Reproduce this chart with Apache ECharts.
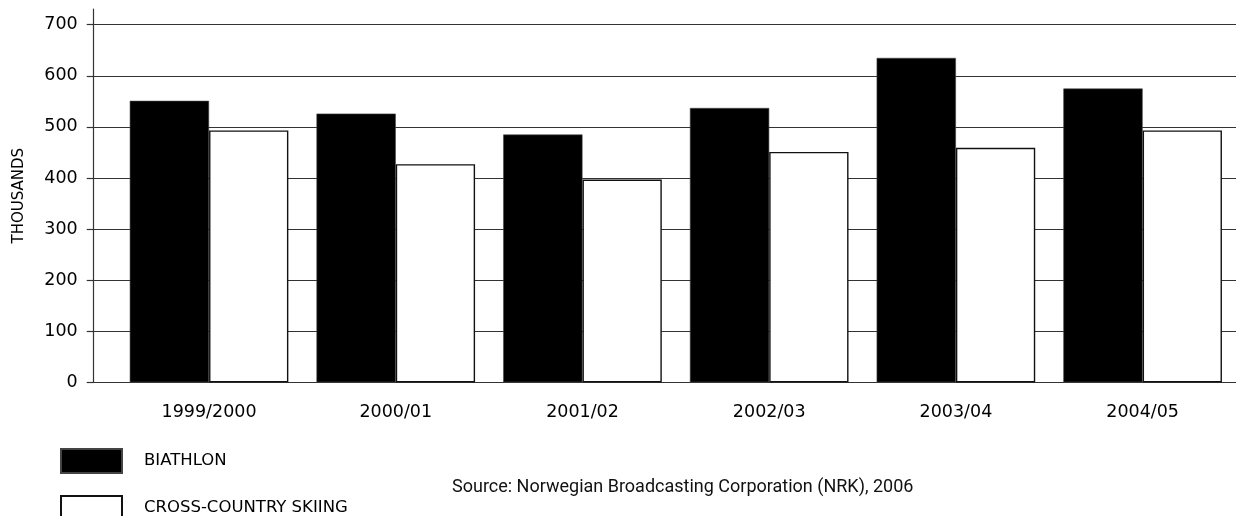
<!DOCTYPE html>
<html>
<head>
<meta charset="utf-8">
<script src="https://cdn.jsdelivr.net/npm/echarts@6/dist/echarts.min.js"></script>
<style>
  html, body { margin: 0; padding: 0; background: #fff; }
  #chart { width: 1236px; height: 516px; }
</style>
</head>
<body>
<div id="chart"></div>
<script>
const seasons = ['1999/2000', '2000/01', '2001/02', '2002/03', '2003/04', '2004/05']
const biathlon = [551, 526, 485, 537, 635, 575]
const crossCountry = [493, 427, 397, 451, 459, 493]
const yTicks = { min: 0, max: 700, interval: 100 }

const font = 'DejaVu Sans'
const lineColor = '#333'

const chart = echarts.init(document.getElementById('chart'))

// one legend per item so they stack like the original key
const legendBase = {
  orient: 'vertical',
  left: 60,
  itemWidth: 61,
  itemHeight: 24,
  icon: 'rect',
  padding: 0,
  textStyle: { fontFamily: font, fontSize: 16.5, color: '#000', padding: [0, 0, 0, 17] }
}

chart.setOption({
  animation: false,
  title: {
    text: 'Source: Norwegian Broadcasting Corporation (NRK), 2006',
    left: 452,
    top: 478,
    padding: 0,
    textStyle: { fontFamily: 'Roboto', fontSize: 18, fontWeight: 'normal', color: '#111' }
  },
  legend: [
    Object.assign({}, legendBase, { top: 448, data: ['BIATHLON'] }),
    Object.assign({}, legendBase, { top: 495, data: ['CROSS-COUNTRY SKIING'] })
  ],
  grid: [
    // axis + gridlines
    { left: 93.7, right: 0, top: 24.7, bottom: 133.7 },
    // bars
    { left: 115.7, width: 1122, top: 24.7, bottom: 133.7 },
    // taller axis line, carries the axis name
    { left: 93.7, right: 0, top: 9, bottom: 133.7 }
  ],
  xAxis: [
    { gridIndex: 0, type: 'value', min: 0, max: 1, show: false },
    {
      gridIndex: 1,
      type: 'category',
      data: seasons,
      axisLine: { show: false },
      axisTick: { show: false },
      axisLabel: { margin: 21, fontFamily: font, fontSize: 17.5, color: '#000' }
    },
    { gridIndex: 2, type: 'value', min: 0, max: 1, show: false }
  ],
  yAxis: [
    {
      gridIndex: 0,
      type: 'value',
      min: yTicks.min,
      max: yTicks.max,
      interval: yTicks.interval,
      axisLine: { show: false },
      axisTick: { show: true, length: 7, lineStyle: { color: lineColor, width: 1.2 } },
      axisLabel: { margin: 16, fontFamily: font, fontSize: 17.5, color: '#000' },
      splitLine: { show: true, lineStyle: { color: lineColor, width: 1.2 } }
    },
    {
      gridIndex: 1,
      type: 'value',
      min: yTicks.min,
      max: yTicks.max,
      show: false
    },
    {
      gridIndex: 2,
      type: 'value',
      min: 0,
      max: 1,
      name: 'THOUSANDS',
      nameLocation: 'middle',
      nameRotate: 90,
      nameGap: 67,
      nameTextStyle: { fontFamily: font, fontSize: 15, color: '#000' },
      axisLine: { show: true, lineStyle: { color: lineColor, width: 1.2 } },
      axisTick: { show: false },
      axisLabel: { show: false },
      splitLine: { show: false }
    }
  ],
  series: [{
    name: 'BIATHLON',
    type: 'bar',
    xAxisIndex: 1,
    yAxisIndex: 1,
    barWidth: 79.3,
    barGap: '0%',
    data: biathlon,
    itemStyle: { color: '#000', borderColor: '#444', borderWidth: 0.6 }
  }, {
    name: 'CROSS-COUNTRY SKIING',
    type: 'bar',
    xAxisIndex: 1,
    yAxisIndex: 1,
    barWidth: 79.3,
    barGap: '0%',
    data: crossCountry,
    itemStyle: { color: '#fff', borderColor: '#111', borderWidth: 1.4 }
  }]
})
</script>
</body>
</html>
